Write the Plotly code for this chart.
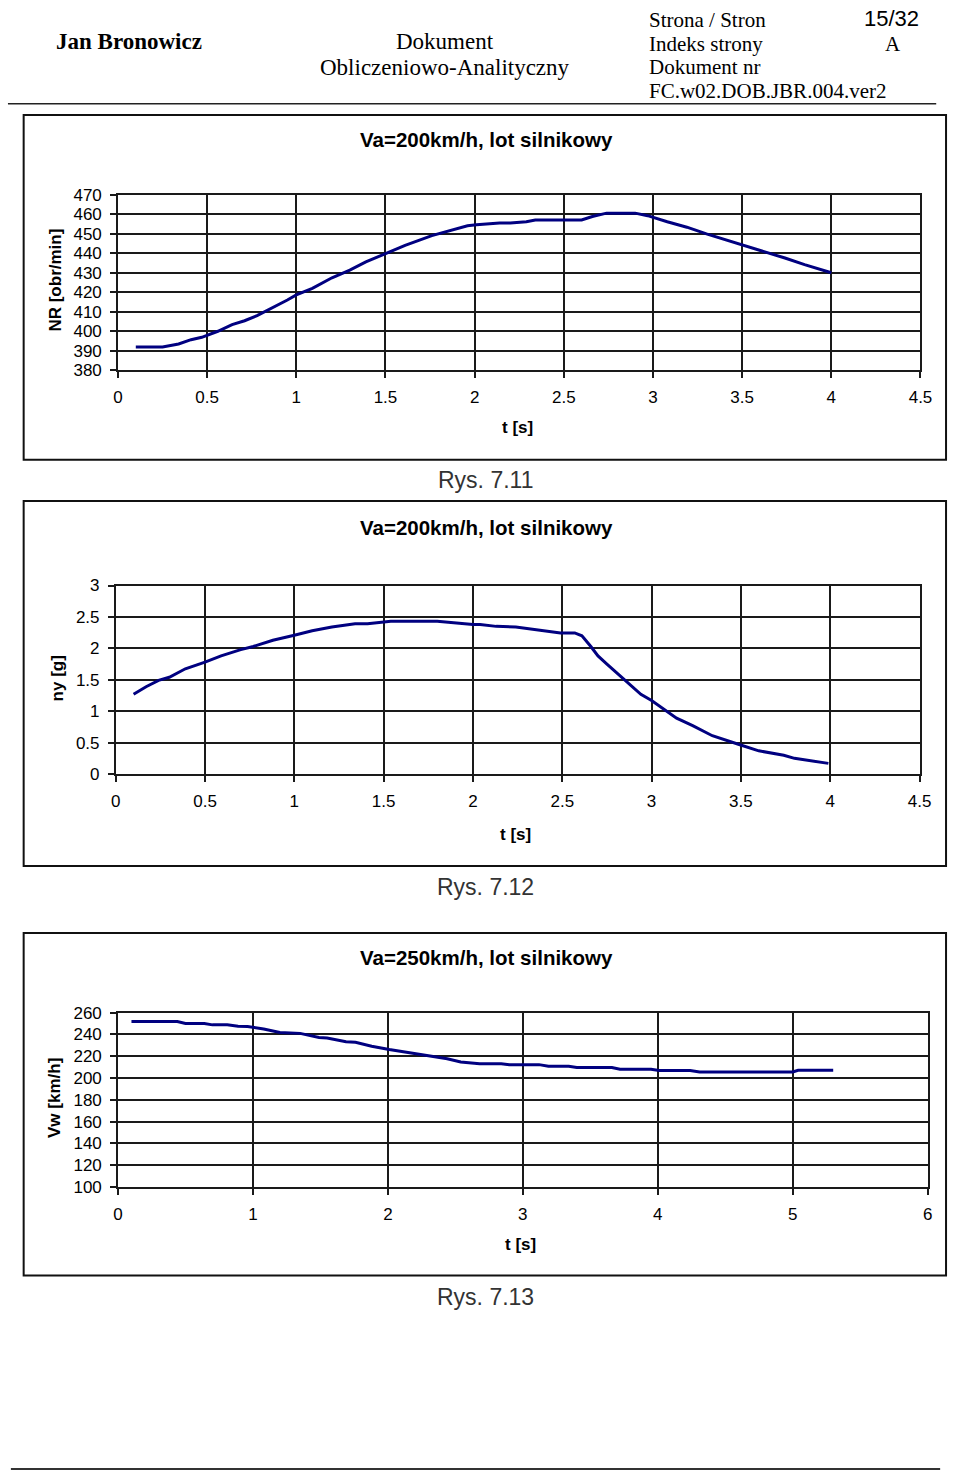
import plotly.graph_objects as go

# ---------------- data ----------------
t1 = [0.1, 0.25, 0.34, 0.41, 0.47, 0.5, 0.56, 0.64, 0.71, 0.78, 0.87, 0.95, 1.0, 1.09, 1.2, 1.3,
      1.39, 1.5, 1.61, 1.76, 1.87, 1.96, 2.01, 2.14, 2.2, 2.29, 2.34, 2.6, 2.66, 2.74, 2.9, 2.97,
      3.08, 3.19, 3.3, 3.41, 3.5, 3.63, 3.74, 3.85, 4.0]
nr = [392, 392, 393.5, 395.7, 396.9, 398, 400, 403.4, 405.4, 408, 412.1, 416, 418.6, 422, 427.4,
      431.3, 435.5, 439.7, 444, 449, 451.9, 454, 454.5, 455.5, 455.5, 456.1, 457, 457, 458.8,
      460.5, 460.5, 459.2, 456.1, 453.3, 449.9, 446.9, 444.3, 440.6, 437.5, 434.1, 430]

t2 = [0.1, 0.17, 0.24, 0.3, 0.39, 0.5, 0.59, 0.7, 0.77, 0.88, 1.0, 1.1, 1.21, 1.34, 1.41, 1.5,
      1.54, 1.8, 1.87, 2.0, 2.04, 2.13, 2.24, 2.37, 2.49, 2.57, 2.61, 2.66, 2.7, 2.75, 2.82, 2.94,
      3.0, 3.07, 3.14, 3.23, 3.34, 3.49, 3.6, 3.74, 3.8, 3.99]
ny = [1.27, 1.39, 1.49, 1.54, 1.675, 1.78, 1.88, 1.98, 2.03, 2.13, 2.21, 2.28, 2.34, 2.39, 2.39,
      2.41, 2.43, 2.43, 2.41, 2.38, 2.38, 2.35, 2.34, 2.29, 2.245, 2.245, 2.2, 2.03, 1.88, 1.75,
      1.57, 1.27, 1.17, 1.03, 0.89, 0.77, 0.61, 0.47, 0.37, 0.3, 0.25, 0.17]

t3 = [0.1, 0.44, 0.5, 0.64, 0.7, 0.81, 0.89, 0.96, 1.08, 1.2, 1.35, 1.49, 1.55, 1.69, 1.76, 1.88,
      2.01, 2.1, 2.21, 2.32, 2.44, 2.54, 2.61, 2.68, 2.84, 2.9, 3.12, 3.19, 3.34, 3.4, 3.66, 3.72,
      3.95, 4.01, 4.24, 4.31, 5.0, 5.04, 5.3]
vw = [251.8, 251.8, 250, 250, 248.8, 248.8, 247.6, 247.3, 245, 241.9, 241, 237.3, 236.8, 233.4,
      232.8, 229.2, 226.2, 224.4, 222.3, 220.7, 217.7, 214.7, 214.1, 213.2, 213.2, 212.3, 212.3,
      210.8, 210.8, 209.6, 209.6, 208.1, 208.1, 206.9, 206.9, 205.6, 205.6, 207.2, 207.2]

titles = ["Va=200km/h, lot silnikowy", "Va=200km/h, lot silnikowy", "Va=250km/h, lot silnikowy"]
ytitles = ["NR [obr/min]", "ny [g]", "Vw [km/h]"]
xtitle = "t [s]"
captions = ["Rys. 7.11", "Rys. 7.12", "Rys. 7.13"]

# ---------------- layout helpers ----------------
W, H = 960, 1483
def px(v): return v / W
def py(v): return 1 - v / H

SANS = "Liberation Sans, Arial, sans-serif"
SERIF = "Liberation Serif, Times New Roman, serif"
LINE = "#000080"
GRID = "#1a1a1a"

fig = go.Figure()
fig.add_trace(go.Scatter(x=t1, y=nr, mode="lines", line=dict(color=LINE, width=3), xaxis="x", yaxis="y"))
fig.add_trace(go.Scatter(x=t2, y=ny, mode="lines", line=dict(color=LINE, width=3), xaxis="x2", yaxis="y2"))
fig.add_trace(go.Scatter(x=t3, y=vw, mode="lines", line=dict(color=LINE, width=3), xaxis="x3", yaxis="y3"))

def xax(dom, rng, dt, anchor):
    return dict(domain=dom, range=rng, dtick=dt, tick0=0, anchor=anchor,
                showgrid=True, gridcolor=GRID, gridwidth=1.5,
                showline=True, linecolor=GRID, linewidth=1.5, mirror=True,
                ticks="outside", ticklen=6, tickwidth=1.5, tickcolor=GRID,
                zeroline=False, ticklabelstandoff=5,
                tickfont=dict(family=SANS, size=17, color="black"), fixedrange=True)

def yax(dom, rng, dt, anchor):
    return dict(domain=dom, range=rng, dtick=dt, tick0=0, anchor=anchor,
                showgrid=True, gridcolor=GRID, gridwidth=1.5,
                showline=True, linecolor=GRID, linewidth=1.5, mirror=True,
                ticks="outside", ticklen=6, tickwidth=1.5, tickcolor=GRID,
                zeroline=False, ticklabelstandoff=5,
                tickfont=dict(family=SANS, size=17, color="black"), fixedrange=True)

fig.update_layout(
    width=W, height=H, margin=dict(l=0, r=0, t=0, b=0, pad=0),
    paper_bgcolor="white", plot_bgcolor="white", showlegend=False,
    xaxis=xax([px(115), px(932)], [0, 4.5], 0.5, "y"),
    yaxis=yax([py(366), py(188)], [380, 470], 10, "x"),
    xaxis2=xax([px(112.7), px(931)], [0, 4.5], 0.5, "y2"),
    yaxis2=yax([py(775), py(584)], [0, 3], 0.5, "x2"),
    xaxis3=xax([px(115), px(939.3)], [0, 6], 1, "y3"),
    yaxis3=yax([py(1193.3), py(1016.7)], [100, 260], 20, "x3"),
)

shapes = []
for (x0, y0, x1, y1) in [(19, 107.5, 958, 456.5), (19, 498.5, 958, 868), (19, 936, 958, 1283)]:
    shapes.append(dict(type="rect", xref="paper", yref="paper", x0=px(x0), x1=px(x1),
                       y0=py(y1), y1=py(y0), line=dict(color="#111", width=2), layer="below"))
shapes.append(dict(type="line", xref="paper", yref="paper", x0=px(3), x1=px(948), y0=py(96), y1=py(96),
                   line=dict(color="#222", width=1.5)))
shapes.append(dict(type="line", xref="paper", yref="paper", x0=px(6), x1=px(952), y0=py(1479), y1=py(1479),
                   line=dict(color="#333", width=2)))
fig.update_layout(shapes=shapes)

ann = []
def text(x, y, s, size, family=SANS, bold=False, color="black", xanchor="center", angle=0):
    ann.append(dict(x=px(x), y=py(y), xref="paper", yref="paper", text=("<b>%s</b>" % s) if bold else s,
                    showarrow=False, xanchor=xanchor, yanchor="middle", textangle=angle,
                    font=dict(family=family, size=size, color=color)))

# header
text(50, 33, "Jan Bronowicz", 23, SERIF, bold=True, xanchor="left")
text(448, 33, "Dokument", 23, SERIF)
text(448, 59, "Obliczeniowo-Analityczny", 23, SERIF)
text(654, 11, "Strona / Stron", 21, SERIF, xanchor="left")
text(654, 35, "Indeks strony", 21, SERIF, xanchor="left")
text(654, 59, "Dokument nr", 21, SERIF, xanchor="left")
text(654, 83, "FC.w02.DOB.JBR.004.ver2", 21, SERIF, xanchor="left")
text(902, 10, "15/32", 22, SANS)
text(904, 35, "A", 21, SERIF)

title_y = [132, 525, 961]
xt_pos = [(522, 424), (520, 836), (525, 1252)]
yt_pos = [(51, 275), (53, 678), (51, 1103)]
cap_y = [477, 889, 1305]
for i in range(3):
    text(490, title_y[i], titles[i], 20.5, bold=True)
    text(xt_pos[i][0], xt_pos[i][1], xtitle, 17, bold=True)
    text(yt_pos[i][0], yt_pos[i][1], ytitles[i], 17, bold=True, angle=-90)
    text(489, cap_y[i], captions[i], 23, color="#333")

fig.update_layout(annotations=ann)

fig.write_html("out.html", config={"displayModeBar": False},
               post_script="document.body.style.margin='0px';")
